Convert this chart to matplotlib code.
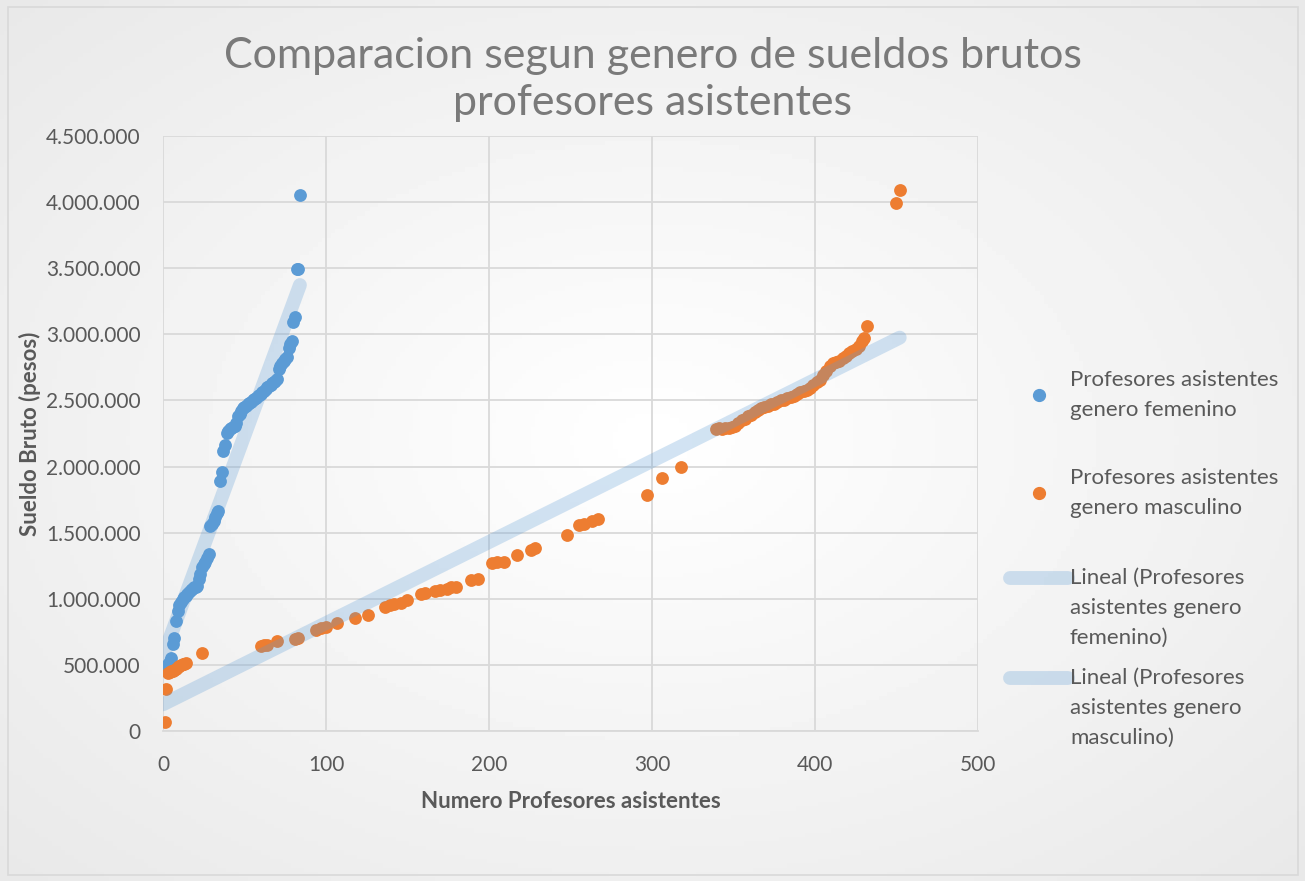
import numpy as np
import matplotlib
matplotlib.use("Agg")
import matplotlib.pyplot as plt
from matplotlib.ticker import FuncFormatter, MultipleLocator
from matplotlib.lines import Line2D
from matplotlib.patches import Rectangle
from matplotlib.legend_handler import HandlerLine2D

TITLE   = "Comparacion segun genero de sueldos brutos\nprofesores asistentes"
X_LABEL = "Numero Profesores asistentes"
Y_LABEL = "Sueldo Bruto (pesos)"
LBL_FEM = "Profesores asistentes\ngenero femenino"
LBL_MAS = "Profesores asistentes\ngenero masculino"
LBL_TFEM = "Lineal (Profesores\nasistentes genero\nfemenino)"
LBL_TMAS = "Lineal (Profesores\nasistentes genero\nmasculino)"

# female: index vs gross salary
fem_x = np.arange(1, 85)
fem_y = [470000, 490000, 510000, 530000, 550000, 660000, 700000, 830000, 910000, 950000,
         975000, 1000000, 1010000, 1020000, 1035000, 1050000, 1065000, 1075000, 1085000, 1090000,
         1095000, 1150000, 1190000, 1240000, 1260000, 1280000, 1310000, 1340000, 1550000, 1565000,
         1590000, 1615000, 1650000, 1660000, 1890000, 1960000, 2120000, 2160000, 2250000, 2270000,
         2280000, 2290000, 2300000, 2310000, 2330000, 2380000, 2400000, 2420000, 2440000, 2450000,
         2460000, 2470000, 2480000, 2490000, 2500000, 2510000, 2520000, 2530000, 2540000, 2550000,
         2560000, 2570000, 2585000, 2600000, 2610000, 2620000, 2630000, 2640000, 2650000, 2660000,
         2740000, 2760000, 2780000, 2800000, 2810000, 2830000, 2900000, 2930000, 2950000, 3090000,
         3130000, 3490000, 3490000, 4050000]

# male: index vs gross salary
mas_x = [1, 2, 3, 4, 5, 6, 7, 8, 9, 10, 11, 12, 13, 14, 24,
         60, 62, 64, 70, 81, 83, 94, 97, 100, 107, 118, 126,
         136, 139, 142, 146, 150, 158, 161, 167, 170, 174, 177, 180, 189, 193,
         202, 205, 209, 217, 226, 228, 248, 255, 258, 263, 267, 297, 306, 318,
         339, 341, 343, 345, 347, 349, 351, 353, 355, 357, 359, 361, 363, 365, 367, 369,
         371, 373, 375, 377, 379, 381, 383, 385, 387, 389, 391, 393, 395, 397, 399, 401,
         403, 405, 407, 409, 411, 413, 415, 417, 419, 421, 423, 425, 427, 429, 430, 432,
         450, 452]
mas_y = [70000, 320000, 440000, 445000, 450000, 455000, 460000, 470000, 480000, 490000,
         500000, 505000, 510000, 515000, 590000,
         645000, 648000, 650000, 680000, 696000, 700000, 764000, 779000, 790000, 817000, 855000, 877000,
         940000, 950000, 960000, 968000, 991000, 1035000, 1045000, 1055000, 1065000, 1075000, 1085000,
         1090000, 1140000, 1150000,
         1270000, 1275000, 1275000, 1330000, 1370000, 1380000, 1480000, 1555000, 1565000, 1585000,
         1600000, 1785000, 1914000, 1997000,
         2285000, 2290000, 2285000, 2290000, 2295000, 2300000, 2310000, 2330000, 2350000, 2360000,
         2380000, 2390000, 2410000, 2425000, 2440000, 2450000,
         2460000, 2470000, 2475000, 2490000, 2500000, 2505000, 2515000, 2525000, 2535000, 2545000,
         2560000, 2570000, 2580000, 2595000, 2620000, 2640000,
         2655000, 2690000, 2720000, 2760000, 2780000, 2790000, 2800000, 2820000, 2835000, 2855000,
         2870000, 2890000, 2910000, 2950000, 2970000, 3060000,
         3990000, 4090000]

BLUE   = "#5b9bd5"
ORANGE = "#ed7d31"
TEXT   = "#595959"
GRID   = "#d9d9d9"


class FirstLineHandler(HandlerLine2D):
  # spreadsheet legends put the line swatch next to the first text line
  def create_artists(self, legend, orig_handle, xdescent, ydescent, width, height, fontsize, trans):
    arts = super().create_artists(legend, orig_handle, xdescent, ydescent, width, height, fontsize, trans)
    for a in arts:
      a.set_ydata(np.asarray(a.get_ydata()) + 21.6)
    return arts


plt.rcParams['font.family'] = ['Lato', 'DejaVu Sans']

fig = plt.figure(figsize=(13.05, 8.81), dpi=100)
fig.patch.set_facecolor("#f2f2f2")

# soft radial background like the spreadsheet chart area
bg = fig.add_axes([0, 0, 1, 1], zorder=-10)
gx, gy = np.meshgrid(np.linspace(-1, 1, 300), np.linspace(-1, 1, 200))
rr = np.sqrt((gx * 0.9) ** 2 + (gy * 0.9) ** 2)
bg.imshow(1 - 0.07 * np.clip(rr, 0, 1.3), cmap="gray", vmin=0, vmax=1,
          aspect="auto", extent=[0, 1, 0, 1])
bg.set_axis_off()
fig.patches.append(Rectangle((0.006, 0.007), 0.989, 0.985, transform=fig.transFigure,
                             fill=False, edgecolor=GRID, linewidth=1.2))

ax = fig.add_axes([0.1249, 0.1703, 0.6245, 0.6754])
ax.set_facecolor("none")

ax.scatter(fem_x, fem_y, s=85, color=BLUE, zorder=3, linewidths=0)
ax.scatter(mas_x, mas_y, s=85, color=ORANGE, zorder=3, linewidths=0)

# linear trendlines fitted to the data
for xs, ys in ((fem_x, fem_y), (mas_x, mas_y)):
  k, b = np.polyfit(xs, ys, 1)
  tx = np.array([0, max(xs)])
  ax.plot(tx, k * tx + b, color=BLUE, alpha=0.27, linewidth=10,
          solid_capstyle="round", zorder=4)

ax.set_xlim(0, 500)
ax.set_ylim(0, 4500000)
ax.xaxis.set_major_locator(MultipleLocator(100))
ax.yaxis.set_major_locator(MultipleLocator(500000))
ax.yaxis.set_major_formatter(FuncFormatter(lambda v, p: f"{int(v):,}".replace(",", ".")))
ax.grid(True, color=GRID, linewidth=1.3, zorder=0)
ax.set_axisbelow(True)
for s in ("top", "right", "left"):
  ax.spines[s].set_visible(False)
ax.spines["bottom"].set_color(GRID)
ax.spines["bottom"].set_linewidth(1.3)
ax.tick_params(length=0, labelsize=15, colors=TEXT)
ax.tick_params(axis="y", pad=16)
ax.tick_params(axis="x", pad=17)

ax.set_xlabel(X_LABEL, fontsize=16, fontweight="bold", color=TEXT, labelpad=12)
ax.set_ylabel(Y_LABEL, fontsize=16, fontweight="bold", color=TEXT, labelpad=4)
fig.text(0.5, 0.958, TITLE, ha="center", va="top", fontsize=31, color="#7a7a7a",
         linespacing=1.3)

entries = [(Line2D([], [], marker="o", linestyle="none", color=BLUE, markersize=8.5), LBL_FEM, 395, None),
           (Line2D([], [], marker="o", linestyle="none", color=ORANGE, markersize=8.5), LBL_MAS, 493, None),
           (Line2D([], [], color=BLUE, alpha=0.27, linewidth=10, solid_capstyle="round"), LBL_TFEM, 608,
            FirstLineHandler()),
           (Line2D([], [], color=BLUE, alpha=0.27, linewidth=10, solid_capstyle="round"), LBL_TMAS, 708,
            FirstLineHandler())]
for h, lbl, ypx, hdl in entries:
  hm = {h: hdl} if hdl else None
  leg = fig.legend([h], [lbl], loc="center left", bbox_to_anchor=(1010 / 1305, 1 - ypx / 881),
                   frameon=False, fontsize=16, borderpad=0, borderaxespad=0,
                   handlelength=2.6, handletextpad=0.1, handler_map=hm)
  for t in leg.get_texts():
    t.set_color(TEXT)
    t.set_linespacing(1.62)

fig.savefig("out.png", dpi=100, facecolor=fig.get_facecolor())
